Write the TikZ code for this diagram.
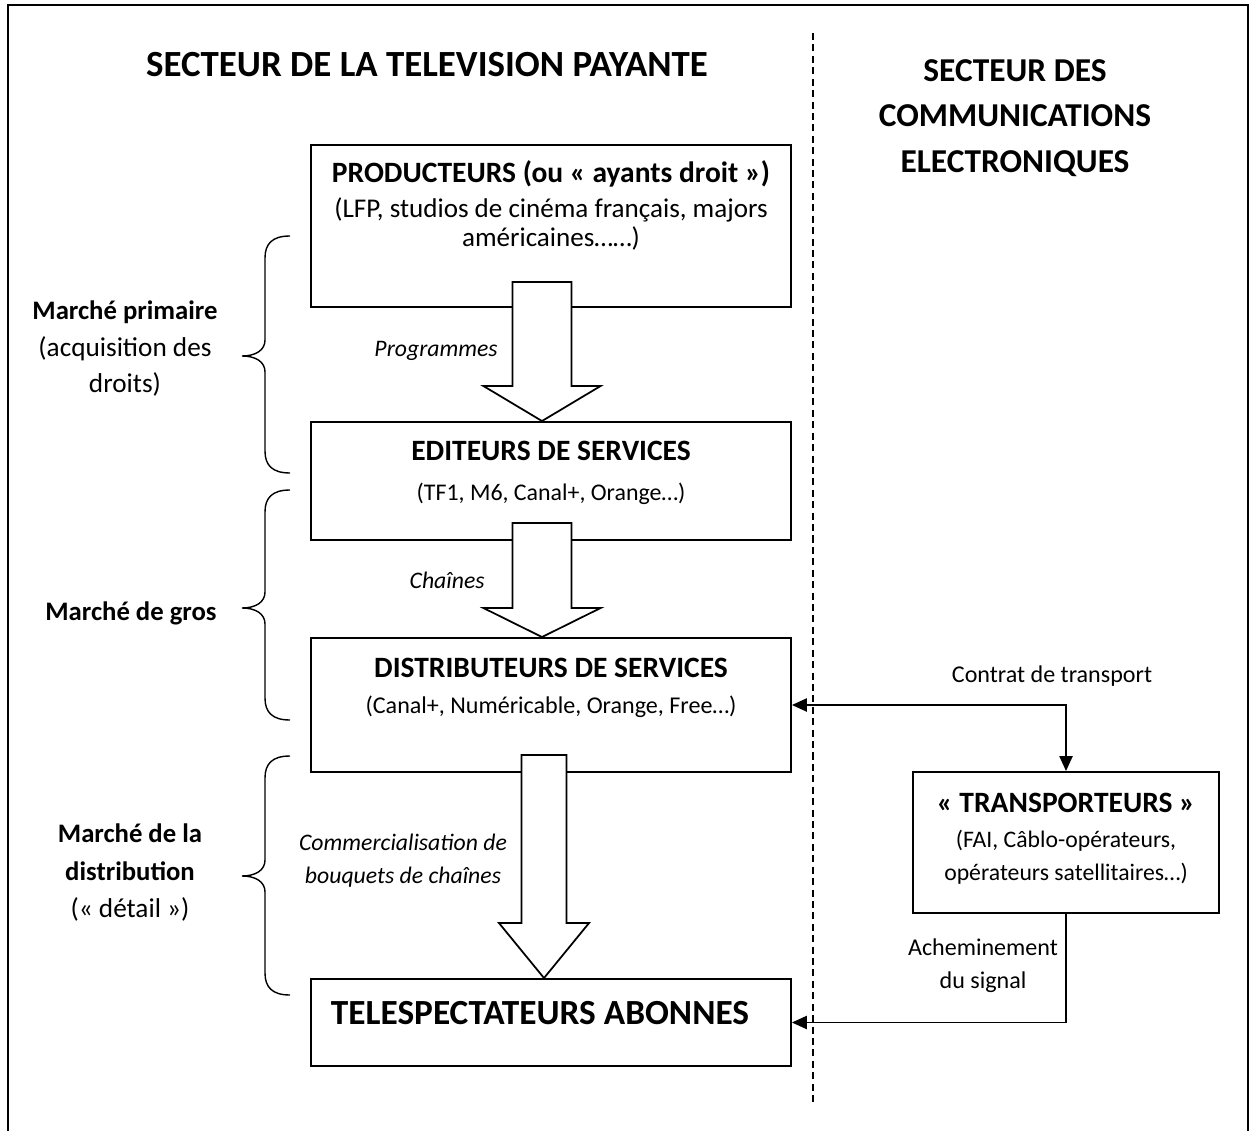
\documentclass[tikz,border=0pt]{standalone}
\usepackage{fontspec}
\setmainfont{Carlito}
\usetikzlibrary{
  arrows.meta,
  calc}

\tikzset{
  box/.style={draw,line width=1.1pt,minimum width=9.6cm,inner sep=0pt},
  boxhead/.style={font=\fontsize{16.8}{20}\selectfont\bfseries,anchor=base,inner sep=0pt},
  boxsub/.style={font=\fontsize{13.5}{16}\selectfont,anchor=base,inner sep=0pt},
  sector/.style={font=\fontsize{19}{22}\selectfont\bfseries,anchor=base,inner sep=0pt},
  market/.style={font=\fontsize{15.2}{18}\selectfont\bfseries,anchor=base,inner sep=0pt},
  marketsub/.style={font=\fontsize{15.5}{18}\selectfont,anchor=base,inner sep=0pt},
  flowlabel/.style={font=\fontsize{13.5}{16}\selectfont\itshape,anchor=base,inner sep=0pt},
  linklabel/.style={font=\fontsize{13.7}{16}\selectfont,anchor=base,inner sep=0pt},
  blockarrow/.style={draw,fill=white,line width=1pt,line join=miter},
  link/.style={draw,line width=0.9pt,-{Triangle[length=8.5pt,width=7.5pt]}},
  bracket/.style={draw,line width=0.8pt}
}

% curly bracket on the left: top, tip, bottom
\newcommand{\marketbrace}[3]{%
  \draw[bracket] (290,#1) .. controls (272,#1) and (265,#1+8) .. (265,#1+22)
    -- (265,#2-16) .. controls (265,#2-6) and (256,#2) .. (242,#2)
    .. controls (256,#2) and (265,#2+6) .. (265,#2+16)
    -- (265,#3-22) .. controls (265,#3-8) and (272,#3) .. (290,#3);}

% hollow arrow: tip, half head, head length, half shaft, shaft length
\newcommand{\blockarrow}[5]{%
  \draw[blockarrow] #1 -- ++(-#2,-#3) -- ++(#2-#4,0) -- ++(0,-#5)
    -- ++(2*#4,0) -- ++(0,#5) -- ++(#2-#4,0) -- cycle;}

\begin{document}
\begin{tikzpicture}[x=0.02cm,y=-0.02cm]
\useasboundingbox (0,0) rectangle (1250,1131);
\draw[line width=0.8pt] (8,1131) -- (8,5) -- (1248,5) -- (1248,1131);
\draw[line width=0.8pt,dash pattern=on 4pt off 2.5pt] (813,33) -- (813,1105);

% titles
\node[sector,font=\fontsize{21}{24}\selectfont\bfseries] (tvtitle) at (427,77) {SECTEUR DE LA TELEVISION PAYANTE};
\node[sector] (ectitle1) at (1015,82) {SECTEUR DES};
\node[sector] (ectitle2) at (1015,127) {COMMUNICATIONS};
\node[sector] (ectitle3) at (1015,173) {ELECTRONIQUES};

% boxes
\node[box,minimum height=3.24cm] (prod) at (551,226) {};
\node[box,minimum height=2.36cm] (edit) at (551,481) {};
\node[box,minimum height=2.68cm] (dist) at (551,705) {};
\node[box,minimum height=1.74cm] (tele) at (551,1022.5) {};
\node[box,minimum width=6.12cm,minimum height=2.82cm] (trans) at (1066,842.5) {};

\node[boxhead] (prodhead) at (551,183) {PRODUCTEURS (ou « ayants droit »)};
\node[boxsub,font=\fontsize{15.4}{18}\selectfont] (prodsub1) at (551,218) {(LFP, studios de cinéma français, majors};
\node[boxsub,font=\fontsize{15.4}{18}\selectfont] (prodsub2) at (551,247) {américaines……)};
\node[boxhead] (edithead) at (551,460) {EDITEURS DE SERVICES};
\node[boxsub,font=\fontsize{13.6}{16}\selectfont] (editsub) at (551,500) {(TF1, M6, Canal+, Orange…)};
\node[boxhead] (disthead) at (551,677) {DISTRIBUTEURS DE SERVICES};
\node[boxsub,font=\fontsize{13.7}{16}\selectfont] (distsub) at (551,713) {(Canal+, Numéricable, Orange, Free…)};
\node[sector,font=\fontsize{20.1}{24}\selectfont\bfseries] (telehead) at (540,1024) {TELESPECTATEURS ABONNES};
\node[boxhead] (transhead) at (1066,812) {« TRANSPORTEURS »};
\node[boxsub] (transsub1) at (1066,847) {(FAI, Câblo-opérateurs,};
\node[boxsub] (transsub2) at (1066,880) {opérateurs satellitaires…)};

% flows
\blockarrow{($(edit.north)+(-9,0)$)}{58.5}{35}{29.5}{104}
\blockarrow{($(dist.north)+(-9,0)$)}{58.5}{29}{29.5}{85}
\blockarrow{($(tele.north)+(-7,0)$)}{45}{55}{22.5}{168}
\node[flowlabel,anchor=base east] (progs) at (498,357) {Programmes};
\node[flowlabel,anchor=base east] (chains) at (485,588) {Chaînes};
\node[flowlabel] (bouq1) at (403,850) {Commercialisation de};
\node[flowlabel] (bouq2) at (403,883) {bouquets de chaînes};

% markets
\marketbrace{236}{356}{473}
\marketbrace{490}{608}{720}
\marketbrace{756}{876}{995}
\node[market] (prim1) at (125,320) {Marché primaire};
\node[marketsub] (prim2) at (125,357) {(acquisition des};
\node[marketsub] (prim3) at (125,393) {droits)};
\node[market] (gros) at (131,620) {Marché de gros};
\node[market] (det1) at (130,842) {Marché de la};
\node[market] (det2) at (130,880) {distribution};
\node[marketsub] (det3) at (130,917) {(« détail »)};

% transport
\draw[link,{Triangle[length=8.5pt,width=7.5pt]}-{Triangle[length=8.5pt,width=7.5pt]}] (dist.east) -| (trans.north);
\draw[link] (trans.south) |- (tele.east);
\node[linklabel] (contrat) at (1052,682) {Contrat de transport};
\node[linklabel] (achem1) at (983,955) {Acheminement};
\node[linklabel] (achem2) at (983,988) {du signal};
\end{tikzpicture}
\end{document}
